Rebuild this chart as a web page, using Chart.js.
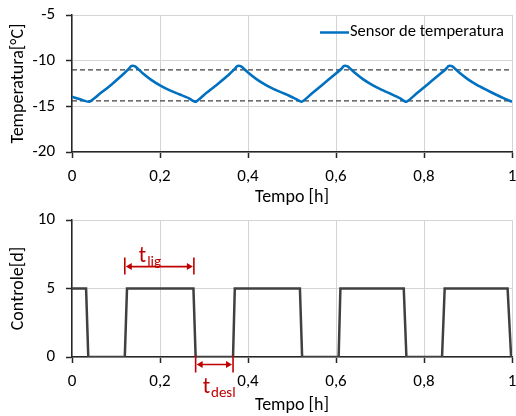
<!DOCTYPE html>
<html>
<head>
<meta charset="utf-8">
<script src="https://cdn.jsdelivr.net/npm/chart.js@4/dist/chart.umd.min.js"></script>
<style>
  html, body { margin: 0; padding: 0; background: #fff; }
  #wrap { position: relative; width: 516px; height: 416px; }
  canvas { position: absolute; left: 0; }
  #tempChart { top: 0; }
  #ctrlChart { top: 208px; }
</style>
</head>
<body>
<div id="wrap">
  <canvas id="tempChart" width="516" height="208"></canvas>
  <canvas id="ctrlChart" width="516" height="208"></canvas>
</div>
<script>
// tempo [h] and temperature [°C]
const tempTime = [0, 0.020, 0.039, 0.065, 0.090, 0.115, 0.130, 0.134, 0.138, 0.142, 0.146, 0.160, 0.180, 0.200, 0.220, 0.245, 0.265, 0.281,
  0.305, 0.330, 0.355, 0.371, 0.375, 0.379, 0.383, 0.387, 0.400, 0.420, 0.440, 0.460, 0.485, 0.505, 0.522,
  0.545, 0.570, 0.595, 0.613, 0.617, 0.621, 0.625, 0.629, 0.642, 0.662, 0.682, 0.702, 0.725, 0.745, 0.760,
  0.783, 0.808, 0.833, 0.851, 0.855, 0.859, 0.863, 0.867, 0.880, 0.900, 0.920, 0.940, 0.963, 0.983, 1.000];
const tempValue = [-13.95, -14.25, -14.5, -13.55, -12.6, -11.55, -10.85, -10.62, -10.55, -10.6, -10.72, -11.35, -12.1, -12.7, -13.2, -13.7, -14.1, -14.5,
  -13.55, -12.6, -11.6, -10.85, -10.62, -10.55, -10.6, -10.72, -11.3, -12.05, -12.65, -13.15, -13.65, -14.1, -14.5,
  -13.6, -12.6, -11.6, -10.85, -10.62, -10.55, -10.6, -10.72, -11.3, -12.05, -12.65, -13.15, -13.65, -14.1, -14.5,
  -13.6, -12.6, -11.6, -10.85, -10.62, -10.55, -10.6, -10.72, -11.3, -12.05, -12.65, -13.15, -13.7, -14.15, -14.5];
const limitHigh = -11;
const limitLow = -14.4;

// on/off control signal
const ctrlTime = [0, 0.032, 0.037, 0.120, 0.125, 0.276, 0.281, 0.366, 0.370, 0.518, 0.523, 0.606, 0.610,
  0.754, 0.760, 0.841, 0.847, 0.990, 0.998, 1.0];
const ctrlValue = [5, 5, 0, 0, 5, 5, 0, 0, 5, 5, 0, 0, 5, 5, 0, 0, 5, 5, 0, 0];

// t_lig / t_desl markers: [start, end, level]
const tLig = [0.120, 0.277, 6.6];
const tDesl = [0.281, 0.366, -0.55];

const xTickLabels = ['0', '0,2', '0,4', '0,6', '0,8', '1'];
const tempTickLabels = ['-20', '-15', '-10', '-5'];
const ctrlTickLabels = ['0', '5', '10'];

const FONT = 'Carlito, Lato, sans-serif';
const AXIS = '#262626';
const GRID = '#d4d4d4';
const RED = '#c00000';

function pairs(xs, ys) {
  return xs.map((x, i) => ({ x: x, y: ys[i] }));
}

function xAxis(h) {
  return {
    type: 'linear',
    min: 0,
    max: 1,
    afterFit: (s) => { s.height = h; s.paddingLeft = 0; s.paddingRight = 0; },
    border: { display: true, color: AXIS, width: 1.5 },
    grid: { color: GRID, borderDash: [2, 2], tickColor: AXIS, tickBorderDash: [], tickLength: 6, tickWidth: 1.5 },
    ticks: {
      stepSize: 0.2,
      padding: 9,
      maxRotation: 0,
      color: '#000',
      font: { family: FONT, size: 17 },
      callback: (v, i) => xTickLabels[i]
    },
    title: { display: true, text: 'Tempo [h]', color: '#000', padding: 0, font: { family: FONT, size: 18 } }
  };
}

function yAxis(min, max, labels, title) {
  return {
    min: min,
    max: max,
    afterFit: (s) => { s.width = 64; s.paddingTop = 0; s.paddingBottom = 0; },
    border: { display: true, color: AXIS, width: 1.5 },
    grid: { color: GRID, borderDash: [2, 2], tickColor: AXIS, tickBorderDash: [], tickLength: 6, tickWidth: 1.5 },
    ticks: {
      stepSize: 5,
      padding: 11,
      color: '#000',
      font: { family: FONT, size: 17 },
      callback: (v, i) => labels[i]
    },
    title: { display: true, text: title, color: '#000', padding: 0, font: { family: FONT, size: 18 } }
  };
}

// legend drawn inside the plot, top right
const lineLegend = {
  id: 'lineLegend',
  afterDraw(chart) {
    const ds = chart.data.datasets[0];
    const ctx = chart.ctx;
    ctx.save();
    ctx.strokeStyle = ds.borderColor;
    ctx.lineWidth = 2.5;
    ctx.beginPath();
    ctx.moveTo(320, 32.5);
    ctx.lineTo(349, 32.5);
    ctx.stroke();
    ctx.fillStyle = '#000';
    ctx.font = '16.5px ' + FONT;
    ctx.textBaseline = 'middle';
    ctx.fillText(ds.label, 350, 32);
    ctx.restore();
  }
};

function drawSpan(chart, span, name, sub, above) {
  const ctx = chart.ctx;
  const xs = chart.scales.x;
  const ys = chart.scales.y;
  const x1 = xs.getPixelForValue(span[0]);
  const x2 = xs.getPixelForValue(span[1]);
  const y = ys.getPixelForValue(span[2]);
  ctx.save();
  ctx.strokeStyle = RED;
  ctx.fillStyle = RED;
  ctx.lineWidth = 1.6;
  ctx.beginPath();
  ctx.moveTo(x1, y - 9); ctx.lineTo(x1, y + 8);
  ctx.moveTo(x2, y - 9); ctx.lineTo(x2, y + 8);
  ctx.moveTo(x1 + 4, y); ctx.lineTo(x2 - 4, y);
  ctx.stroke();
  ctx.beginPath();
  ctx.moveTo(x1 + 1, y); ctx.lineTo(x1 + 7, y - 3.5); ctx.lineTo(x1 + 7, y + 3.5); ctx.closePath();
  ctx.moveTo(x2 - 1, y); ctx.lineTo(x2 - 7, y - 3.5); ctx.lineTo(x2 - 7, y + 3.5); ctx.closePath();
  ctx.fill();
  const tx = x1 + (above ? 14 : 7);
  const ty = above ? y - 5 : y + 28;
  ctx.textBaseline = 'alphabetic';
  ctx.font = '22px ' + FONT;
  ctx.fillText(name, tx, ty);
  const w = ctx.measureText(name).width;
  ctx.font = '15px ' + FONT;
  ctx.fillText(sub, tx + w + 1, ty + 4);
  ctx.restore();
}

const spanMarks = {
  id: 'spanMarks',
  afterDraw(chart) {
    drawSpan(chart, tLig, 't', 'lig', true);
    drawSpan(chart, tDesl, 't', 'desl', false);
  }
};

new Chart(document.getElementById('tempChart'), {
  type: 'line',
  data: {
    datasets: [
      {
        label: 'Sensor de temperatura',
        data: pairs(tempTime, tempValue),
        borderColor: '#0070c0',
        borderWidth: 2.6,
        pointRadius: 0,
        tension: 0.2
      },
      {
        label: 'limite superior',
        data: pairs([0, 1], [limitHigh, limitHigh]),
        borderColor: '#404040',
        borderWidth: 1.3,
        borderDash: [5, 3],
        pointRadius: 0
      },
      {
        label: 'limite inferior',
        data: pairs([0, 1], [limitLow, limitLow]),
        borderColor: '#404040',
        borderWidth: 1.3,
        borderDash: [5, 3],
        pointRadius: 0
      }
    ]
  },
  options: {
    responsive: false,
    animation: false,
    layout: { padding: { left: 8, top: 15, right: 4, bottom: 0 } },
    scales: {
      x: xAxis(56),
      y: yAxis(-20, -5, tempTickLabels, 'Temperatura[°C]')
    },
    plugins: {
      legend: { display: false },
      tooltip: { enabled: false }
    }
  },
  plugins: [lineLegend]
});

new Chart(document.getElementById('ctrlChart'), {
  type: 'line',
  data: {
    datasets: [
      {
        label: 'Controle',
        data: pairs(ctrlTime, ctrlValue),
        borderColor: '#404040',
        borderWidth: 2.5,
        pointRadius: 0,
        tension: 0
      }
    ]
  },
  options: {
    responsive: false,
    animation: false,
    layout: { padding: { left: 8, top: 12, right: 4, bottom: 0 } },
    scales: {
      x: xAxis(59),
      y: yAxis(0, 10, ctrlTickLabels, 'Controle[d]')
    },
    plugins: {
      legend: { display: false },
      tooltip: { enabled: false }
    }
  },
  plugins: [spanMarks]
});
</script>
</body>
</html>
